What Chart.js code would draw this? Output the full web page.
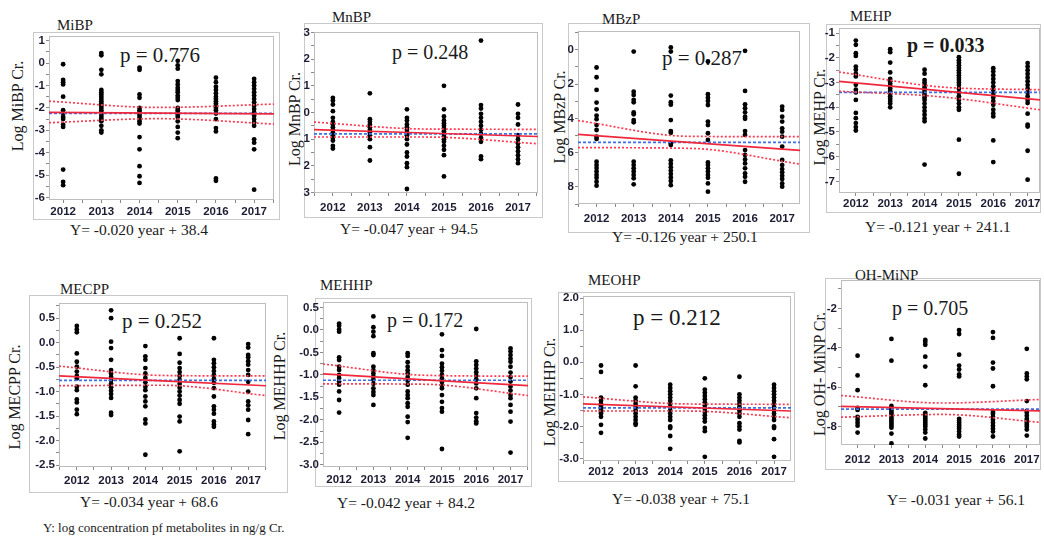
<!DOCTYPE html>
<html>
<head>
<meta charset="utf-8">
<script src="https://cdn.jsdelivr.net/npm/chart.js@4/dist/chart.umd.min.js"></script>
<style>
  body { margin: 0; background: #fff; }
  #fig { position: relative; width: 1044px; height: 536px; overflow: hidden; background: #fff; }
  .frame { position: absolute; border: 1px solid #c9c9c9; box-sizing: border-box; z-index: 0; }
  .txt { position: absolute; white-space: nowrap; line-height: 1; color: #1a1a1a;
         font-family: "Liberation Serif", "Times New Roman", serif; z-index: 1; }
  canvas { position: absolute; z-index: 2; }
</style>
</head>
<body>
<div id="fig"></div>
<script>
const years = [2012, 2013, 2014, 2015, 2016, 2017];

// one list per year, log values
const mibp = [
    [-0.05, -0.75, -0.85, -0.95, -1.5, -2.1, -2.25, -2.4, -2.5, -2.75, -2.85, -4.75, -5.3, -5.45],
    [0.45, 0.35, -0.3, -0.5, -1.2, -1.3, -1.4, -1.5, -1.6, -1.7, -1.8, -1.9, -2.0, -2.1, -2.2, -2.3, -2.4, -2.5, -2.6, -2.8, -3.0, -3.1],
    [-0.2, -0.3, -1.4, -1.55, -2.0, -2.1, -2.2, -2.3, -2.4, -2.5, -2.6, -2.7, -3.3, -3.85, -4.6, -5.05, -5.35],
    [0.1, -0.1, -0.25, -0.8, -0.95, -1.1, -1.2, -1.3, -1.45, -1.55, -1.65, -2.0, -2.1, -2.2, -2.3, -2.4, -2.6, -2.85, -3.1, -3.35],
    [-0.65, -0.85, -1.05, -1.2, -1.35, -1.5, -1.6, -1.7, -1.8, -1.9, -2.0, -2.1, -2.25, -2.5, -2.9, -3.05, -5.15, -5.25],
    [-0.7, -0.85, -1.0, -1.15, -1.3, -1.45, -1.6, -1.75, -1.9, -2.05, -2.2, -2.35, -2.5, -2.65, -2.8, -3.4, -3.55, -3.85, -5.65]
];
const mnbp = [
    [0.55, 0.45, 0.3, 0.05, -0.2, -0.35, -0.45, -0.55, -0.65, -0.75, -0.85, -0.95, -1.05, -1.25, -1.35],
    [0.72, -0.25, -0.35, -0.45, -0.55, -0.65, -0.75, -0.85, -1.0, -1.3, -1.8],
    [0.12, -0.2, -0.3, -0.45, -0.55, -0.65, -0.75, -0.85, -1.0, -1.2, -1.5, -1.65, -1.9, -2.05, -2.87],
    [1.0, 0.12, -0.15, -0.3, -0.4, -0.5, -0.6, -0.7, -0.8, -0.9, -1.0, -1.1, -1.25, -1.4, -1.6, -2.4],
    [2.7, 0.28, 0.15, -0.05, -0.2, -0.35, -0.5, -0.65, -0.8, -0.95, -1.1, -1.65, -1.75],
    [0.3, -0.05, -0.2, -0.45, -0.85, -1.0, -1.15, -1.3, -1.45, -1.6, -1.75, -1.9]
];
const mbzp = [
    [-1.03, -1.6, -2.34, -3.08, -3.47, -3.84, -4.05, -4.39, -4.68, -5.07, -5.2, -6.53, -6.73, -6.9, -7.1, -7.3, -7.47, -7.7, -7.93],
    [-0.1, -2.44, -2.63, -2.92, -3.06, -3.65, -3.76, -4.1, -4.23, -6.53, -6.73, -6.92, -7.1, -7.3, -7.5, -7.85],
    [0.14, -0.1, -2.67, -3.06, -3.2, -4.1, -4.74, -4.84, -5.46, -5.56, -6.45, -6.65, -6.85, -7.05, -7.25, -7.45, -7.65, -7.9],
    [-0.68, -2.59, -2.79, -2.98, -3.22, -4.19, -4.39, -4.87, -5.26, -6.57, -6.73, -6.92, -7.1, -7.3, -7.47, -7.8, -8.28],
    [-0.06, -2.4, -3.18, -3.41, -3.65, -3.9, -4.03, -4.74, -4.97, -5.85, -6.14, -6.4, -6.63, -6.92, -7.21, -7.41, -7.7],
    [-3.31, -3.51, -3.9, -4.19, -4.58, -4.78, -5.07, -5.65, -6.43, -6.73, -6.96, -7.15, -7.35, -7.54, -7.8, -7.99]
];
const mehp = [
    [-1.3, -1.47, -1.81, -1.92, -2.35, -2.48, -2.64, -2.75, -3.09, -3.29, -3.4, -3.7, -4.23, -4.44, -4.64, -4.8, -4.94],
    [-1.65, -1.77, -2.19, -2.59, -2.85, -2.95, -3.05, -3.15, -3.25, -3.35, -3.45, -3.55, -3.65, -3.75, -3.85, -4.0],
    [-2.48, -2.64, -2.9, -3.0, -3.1, -3.2, -3.3, -3.4, -3.5, -3.6, -3.7, -3.85, -4.0, -4.15, -4.3, -4.45, -4.57, -6.32],
    [-1.97, -2.1, -2.2, -2.3, -2.4, -2.5, -2.6, -2.7, -2.8, -2.9, -3.0, -3.1, -3.25, -3.4, -3.55, -3.7, -3.85, -4.0, -4.1, -5.31, -6.69],
    [-2.42, -2.55, -2.7, -2.85, -3.0, -3.15, -3.3, -3.45, -3.6, -3.75, -3.9, -4.1, -4.25, -4.37, -5.34, -6.22],
    [-2.21, -2.35, -2.5, -2.65, -2.8, -2.95, -3.1, -3.25, -3.4, -3.55, -3.7, -3.83, -4.26, -4.7, -4.78, -5.76, -6.93]
];
const mecpp = [
    [0.34, 0.27, 0.21, -0.22, -0.39, -0.49, -0.59, -0.68, -0.73, -0.9, -0.97, -1.16, -1.22, -1.37, -1.46],
    [0.66, 0.5, 0.02, -0.11, -0.35, -0.56, -0.63, -0.7, -0.77, -0.84, -0.91, -0.98, -1.05, -1.13, -1.43, -1.48],
    [-0.07, -0.28, -0.35, -0.52, -0.63, -0.72, -0.81, -0.9, -0.97, -1.1, -1.2, -1.3, -1.57, -1.65, -2.29],
    [0.09, -0.23, -0.41, -0.52, -0.6, -0.68, -0.76, -0.84, -0.92, -1.0, -1.08, -1.17, -1.25, -1.51, -1.61, -2.22],
    [0.09, -0.35, -0.42, -0.5, -0.58, -0.66, -0.74, -0.82, -0.93, -1.1, -1.3, -1.37, -1.45, -1.61, -1.67, -1.72],
    [-0.03, -0.1, -0.25, -0.3, -0.38, -0.45, -0.56, -0.66, -0.8, -1.0, -1.2, -1.28, -1.37, -1.58, -1.87]
];
const mehhp = [
    [0.14, 0.09, 0.01, -0.04, -0.61, -0.67, -0.82, -0.89, -1.0, -1.07, -1.15, -1.22, -1.37, -1.56, -1.84],
    [0.3, 0.06, -0.04, -0.14, -0.52, -0.56, -0.82, -0.9, -0.97, -1.04, -1.11, -1.2, -1.3, -1.38, -1.45, -1.67],
    [-0.52, -0.58, -0.72, -0.82, -0.9, -0.97, -1.05, -1.13, -1.22, -1.37, -1.45, -1.52, -1.63, -1.71, -1.93, -2.05, -2.4],
    [-0.1, -0.45, -0.58, -0.75, -0.83, -0.91, -1.0, -1.08, -1.16, -1.24, -1.3, -1.45, -1.6, -1.74, -1.82, -2.65],
    [0.02, -0.7, -0.78, -0.86, -0.94, -1.02, -1.1, -1.19, -1.3, -1.52, -1.85, -1.95, -2.03, -2.08],
    [-0.41, -0.48, -0.56, -0.64, -0.71, -0.82, -0.95, -1.05, -1.15, -1.26, -1.35, -1.45, -1.52, -1.67, -1.82, -2.04, -2.73]
];
const meohp = [
    [-0.1, -0.3, -1.1, -1.2, -1.3, -1.35, -1.4, -1.45, -1.5, -1.55, -1.6, -1.7, -1.95, -2.2],
    [-0.1, -0.75, -1.1, -1.2, -1.3, -1.4, -1.5, -1.6, -1.7, -1.8, -1.9, -1.95],
    [-0.7, -0.8, -0.9, -1.0, -1.1, -1.2, -1.3, -1.4, -1.5, -1.6, -1.7, -1.8, -2.0, -2.05, -2.3, -2.7],
    [-0.5, -0.85, -0.95, -1.05, -1.15, -1.25, -1.35, -1.45, -1.55, -1.65, -1.75, -1.85, -2.05, -2.15, -2.95],
    [-0.45, -1.0, -1.1, -1.2, -1.3, -1.4, -1.5, -1.6, -1.7, -1.9, -2.0, -2.1, -2.45, -2.5],
    [-0.7, -0.8, -0.9, -1.0, -1.1, -1.2, -1.3, -1.4, -1.5, -1.6, -1.7, -1.8, -2.0, -2.05, -2.4, -2.95]
];
const ohminp = [
    [-4.4, -5.4, -6.15, -7.05, -7.15, -7.5, -7.65, -7.8, -7.95, -8.3],
    [-3.55, -4.65, -6.95, -7.05, -7.15, -7.25, -7.35, -7.45, -7.55, -7.65, -7.75, -7.85, -7.95, -8.05, -8.35, -8.85],
    [-3.6, -3.7, -3.85, -4.45, -4.95, -5.9, -7.3, -7.4, -7.5, -7.6, -7.7, -7.8, -7.9, -8.0, -8.15, -8.3, -8.6],
    [-3.1, -3.3, -4.35, -4.9, -5.1, -5.35, -5.45, -7.6, -7.7, -7.8, -7.9, -8.0, -8.1, -8.25, -8.4, -8.5],
    [-3.2, -3.5, -4.75, -5.05, -5.95, -7.25, -7.35, -7.5, -7.65, -7.8, -7.95, -8.1, -8.25, -8.5],
    [-4.05, -5.3, -5.45, -5.6, -6.7, -7.2, -7.3, -7.45, -7.6, -7.7, -7.8, -7.9, -8.0, -8.15, -8.45]
];

// fit line (left, right), mean, confidence band (left, middle, right)
const mibpFit = { fit: [-2.2, -2.27], mean: -2.24, upper: [-1.7, -1.98, -1.83], lower: [-2.66, -2.48, -2.72] };
const mnbpFit = { fit: [-0.64, -0.9], mean: -0.8, upper: [-0.36, -0.62, -0.63], lower: [-0.92, -0.92, -1.17] };
const mbzpFit = { fit: [-4.93, -5.87], mean: -5.4, upper: [-4.13, -5.05, -5.07], lower: [-5.71, -5.75, -6.67] };
const mehpFit = { fit: [-2.95, -3.7], mean: -3.4, upper: [-2.57, -3.18, -3.29], lower: [-3.35, -3.58, -4.1] };
const mecppFit = { fit: [-0.68, -0.88], mean: -0.77, upper: [-0.48, -0.67, -0.68], lower: [-0.88, -0.87, -1.08] };
const mehhpFit = { fit: [-0.98, -1.24], mean: -1.12, upper: [-0.76, -1.01, -1.03], lower: [-1.2, -1.21, -1.46] };
const meohpFit = { fit: [-1.3, -1.52], mean: -1.42, upper: [-1.08, -1.3, -1.31], lower: [-1.52, -1.52, -1.73] };
const ohminpFit = { fit: [-6.97, -7.2], mean: -7.11, upper: [-6.42, -6.8, -6.62], lower: [-7.52, -7.38, -7.78] };

const titles = ['MiBP', 'MnBP', 'MBzP', 'MEHP', 'MECPP', 'MEHHP', 'MEOHP', 'OH-MiNP'];
const pValues = ['p = 0.776', 'p = 0.248', 'p = 0.287', 'p = 0.033', 'p = 0.252', 'p = 0.172', 'p = 0.212', 'p = 0.705'];
const yTitles = ['Log MiBP Cr.', 'Log MnBP Cr.', 'Log MBzP Cr.', 'Log MEHP Cr.', 'Log MECPP Cr.', 'Log MEHHP Cr.', 'Log MEHHP Cr.', 'Log OH- MiNP Cr.'];
const equations = [
    'Y= -0.020 year + 38.4', 'Y= -0.047 year + 94.5', 'Y= -0.126 year + 250.1', 'Y= -0.121 year + 241.1',
    'Y= -0.034 year + 68.6', 'Y= -0.042 year + 84.2', 'Y= -0.038 year + 75.1', 'Y= -0.031 year + 56.1'
];
const footnote = 'Y: log concentration pf metabolites in ng/g Cr.';

// layout: plot box [l, t, r, b], axis ranges, tick setup, text anchors
const panels = [
    { data: mibp, lines: mibpFit, plot: [49, 36, 274, 200], x: [2011.63, 2017.52], y: [-6.11, 1.21], step: 0.5, every: 1, dec: 0, abs: false, xPad: 2,
      frame: [33, 32, 280, 220], title: [57, 25], p: [120, 55, 21], yt: [18, 106], eq: [70, 230] },
    { data: mnbp, lines: mnbpFit, plot: [314, 32, 538, 193], x: [2011.49, 2017.54], y: [-3.02, 3.02], step: 0.5, every: 1, dec: 0, abs: true, xPad: 5,
      frame: [304, 23, 543, 218], title: [332, 17], p: [392, 52, 20], yt: [295, 119], eq: [340, 229] },
    { data: mbzp, lines: mbzpFit, plot: [578, 31, 800, 204], x: [2011.5, 2017.48], y: [-9.0, 1.1], step: 1, every: 2, dec: 0, abs: true, xPad: 5,
      frame: [568, 23, 810, 233], title: [602, 19], p: [662, 58, 21], yt: [560, 117], eq: [612, 237] },
    { data: mehp, lines: mehpFit, plot: [839, 28, 1040, 193], x: [2011.51, 2017.36], y: [-7.47, -0.79], step: 0.5, every: 1, dec: 0, abs: false, xPad: 1,
      frame: [826, 24, 1041, 213], title: [850, 16], p: [907, 45, 20, true], yt: [820, 117], eq: [865, 227] },
    { data: mecpp, lines: mecppFit, plot: [59, 303, 266, 467], x: [2011.48, 2017.52], y: [-2.54, 0.81], step: 0.25, every: 0.5, dec: 1, abs: false, xPad: 4,
      frame: [29, 295, 288, 493], title: [60, 289], p: [122, 321, 21], yt: [15, 397], eq: [80, 502] },
    { data: mehhp, lines: mehhpFit, plot: [323, 302, 528, 467], x: [2011.53, 2017.51], y: [-3.05, 0.62], step: 0.25, every: 0.5, dec: 1, abs: false, xPad: 3,
      frame: [315, 298, 532, 487], title: [320, 285], p: [387, 320, 20], yt: [280, 386], eq: [337, 503] },
    { data: meohp, lines: meohpFit, plot: [583, 296, 791, 461], x: [2011.48, 2017.49], y: [-3.08, 2.07], step: 0.5, every: 1, dec: 1, abs: false, xPad: 1,
      frame: [558, 292, 795, 482], title: [588, 280], p: [633, 317, 23], yt: [550, 392], eq: [612, 499] },
    { data: ohminp, lines: ohminpFit, plot: [841, 280, 1040, 445], x: [2011.51, 2017.39], y: [-8.93, -0.56], step: 1, every: 2, dec: 0, abs: false, xPad: 5,
      frame: [825, 278, 1041, 470], title: [855, 275], p: [892, 308, 20], yt: [820, 374], eq: [887, 500] }
];

const Y_W = 32, X_H = 24, PAD_T = 8, PAD_R = 6;
const RED = '#f0283c', RED_DOT = '#ff3b52', BLUE = '#3d6fe6';
const TICK_FONT = { family: '"Liberation Sans", Arial, sans-serif', size: 11.5, weight: 'bold' };
const TICK_COLOR = '#1c1c34';

const fig = document.getElementById('fig');

function addText(str, x, y, size, opts) {
    const d = document.createElement('div');
    d.className = 'txt';
    d.textContent = str;
    d.style.left = x + 'px';
    d.style.top = y + 'px';
    d.style.fontSize = size + 'px';
    d.style.transform = (opts && opts.rotate) ? 'translate(-50%, -50%) rotate(-90deg)' : 'translateY(-50%)';
    if (opts && opts.bold) d.style.fontWeight = 'bold';
    fig.appendChild(d);
}

const plotBox = {
    id: 'plotBox',
    beforeDatasetsDraw(chart) {
        const { ctx, chartArea: a } = chart;
        ctx.save();
        ctx.strokeStyle = '#bdbdbd';
        ctx.lineWidth = 1;
        ctx.strokeRect(Math.round(a.left) + 0.5, Math.round(a.top) + 0.5, Math.round(a.width) - 1, Math.round(a.height) - 1);
        ctx.restore();
    }
};

function lineSet(xs, ys, color, dash, width) {
    return {
        data: xs.map((x, i) => ({ x: x, y: ys[i] })),
        showLine: true,
        borderColor: color,
        borderWidth: width,
        borderDash: dash,
        pointRadius: 0,
        cubicInterpolationMode: 'monotone',
        fill: false
    };
}

panels.forEach(function (p, idx) {
    const f = p.frame;
    const fr = document.createElement('div');
    fr.className = 'frame';
    fr.style.left = f[0] + 'px';
    fr.style.top = f[1] + 'px';
    fr.style.width = (f[2] - f[0]) + 'px';
    fr.style.height = (f[3] - f[1]) + 'px';
    fig.appendChild(fr);

    addText(titles[idx], p.title[0], p.title[1], 15);
    addText(pValues[idx], p.p[0], p.p[1], p.p[2], { bold: !!p.p[3] });
    addText(yTitles[idx], p.yt[0], p.yt[1], 16, { rotate: true });
    addText(equations[idx], p.eq[0], p.eq[1], 15.5);

    const [l, t, r, b] = p.plot;
    const canvas = document.createElement('canvas');
    const w = (r - l) + Y_W + PAD_R;
    const h = (b - t) + PAD_T + X_H;
    canvas.width = w;
    canvas.height = h;
    canvas.style.width = w + 'px';
    canvas.style.height = h + 'px';
    canvas.style.left = (l - Y_W) + 'px';
    canvas.style.top = (t - PAD_T) + 'px';
    fig.appendChild(canvas);

    const points = [];
    p.data.forEach((col, i) => col.forEach(v => points.push({ x: years[i], y: v })));
    const xs2 = [p.x[0], p.x[1]];
    const xs3 = [p.x[0], 2014.5, p.x[1]];
    const ln = p.lines;

    new Chart(canvas.getContext('2d'), {
        type: 'scatter',
        data: {
            datasets: [
                lineSet(xs2, ln.fit, RED, [], 1.7),
                lineSet(xs3, ln.upper, RED_DOT, [2, 2], 1.7),
                lineSet(xs3, ln.lower, RED_DOT, [2, 2], 1.7),
                lineSet(xs2, [ln.mean, ln.mean], BLUE, [3, 2], 1.7),
                { data: points, backgroundColor: '#000', borderWidth: 0, pointRadius: 2.4, showLine: false }
            ]
        },
        options: {
            responsive: false,
            animation: false,
            devicePixelRatio: 1,
            layout: { padding: { top: PAD_T, right: PAD_R, left: 0, bottom: 0 } },
            plugins: { legend: { display: false }, tooltip: { enabled: false } },
            scales: {
                x: {
                    type: 'linear', min: p.x[0], max: p.x[1], offset: false,
                    border: { display: false },
                    grid: { drawOnChartArea: false, drawTicks: true, tickLength: 3, tickColor: '#8a8a8a' },
                    ticks: {
                        stepSize: 0.5, includeBounds: false, autoSkip: false, maxRotation: 0, minRotation: 0,
                        padding: p.xPad, font: TICK_FONT, color: TICK_COLOR,
                        callback: v => Number.isInteger(v) ? String(v) : ''
                    },
                    afterFit: s => { s.height = X_H; s.paddingLeft = 0; s.paddingRight = 0; }
                },
                y: {
                    type: 'linear', min: p.y[0], max: p.y[1],
                    border: { display: false },
                    grid: { drawOnChartArea: false, drawTicks: true, tickLength: 3, tickColor: '#8a8a8a' },
                    ticks: {
                        stepSize: p.step, includeBounds: false, autoSkip: false, padding: 1,
                        font: TICK_FONT, color: TICK_COLOR,
                        callback: function (v) {
                            const k = Math.round(v / p.every);
                            if (Math.abs(v / p.every - k) > 1e-6) return '';
                            let n = k * p.every;
                            if (p.abs) n = Math.abs(n);
                            return p.dec ? n.toFixed(p.dec) : String(n);
                        }
                    },
                    afterFit: s => { s.width = Y_W; s.paddingTop = 0; s.paddingBottom = 0; }
                }
            }
        },
        plugins: [plotBox]
    });
});

addText(footnote, 43, 527, 13);
</script>
</body>
</html>
